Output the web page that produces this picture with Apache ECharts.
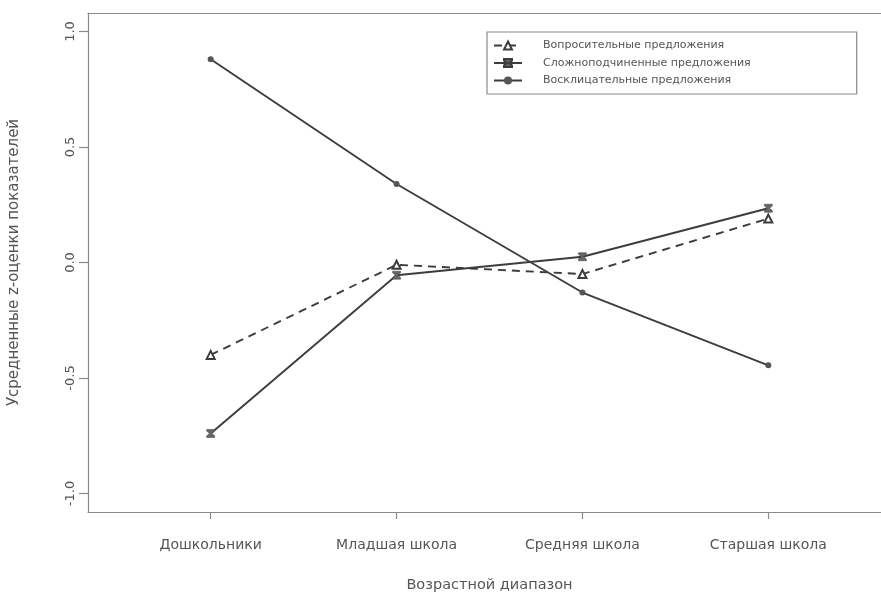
<!DOCTYPE html>
<html>
<head>
<meta charset="utf-8">
<script src="https://cdn.jsdelivr.net/npm/echarts@6/dist/echarts.min.js"></script>
<style>html,body{margin:0;padding:0;background:#fff;}#c{width:881px;height:592px;}</style>
</head>
<body>
<div id="c"></div>
<script>
const categories = ['Дошкольники', 'Младшая школа', 'Средняя школа', 'Старшая школа'];
const seriesNames = ['Вопросительные предложения', 'Сложноподчиненные предложения', 'Восклицательные предложения'];
const questionValues = [-0.40, -0.01, -0.05, 0.19];
const complexValues = [-0.74, -0.055, 0.025, 0.235];
const exclamValues = [0.88, 0.34, -0.13, -0.445];
const yTicks = [-1.0, -0.5, 0.0, 0.5, 1.0];
const xTicks = [1, 2, 3, 4];
const xTitle = 'Возрастной диапазон';
const yTitle = 'Усредненные z-оценки показателей';

const toPairs = vals => vals.map((v, i) => [i + 1, v]);
const FONT = 'DejaVu Sans';
const TXT = '#555';
const LINE = '#3d3d3d';
const BOX = '#8a8a8a';
const hourglass = 'path://M0,0L10,0L10,2L6.5,5L10,8L10,10L0,10L0,8L3.5,5L0,2Z';

const chart = echarts.init(document.getElementById('c'), null, {renderer: 'canvas'});
chart.setOption({
  animation: false,
  backgroundColor: '#fff',
  textStyle: {fontFamily: FONT},
  grid: {left: 88, top: 13, width: 803, height: 499, show: false,
    containLabel: false, outerBoundsMode: 'none'},
  legend: {
    orient: 'vertical', left: 487, top: 32,
    padding: [8, 106, 8, 6],
    borderColor: BOX, borderWidth: 1.2,
    itemWidth: 28, itemHeight: 10, itemGap: 6.5,
    textStyle: {fontFamily: FONT, fontSize: 11, color: TXT, padding: [0, 0, 0, 16]},
    data: seriesNames
  },
  xAxis: [{
    type: 'value', min: 0.34, max: 4.66, position: 'bottom',
    name: xTitle, nameLocation: 'middle', nameGap: 66,
    nameTextStyle: {fontFamily: FONT, fontSize: 14.5, color: TXT},
    axisLine: {show: true, onZero: false, lineStyle: {color: BOX, width: 1.2}},
    splitLine: {show: false},
    axisTick: {show: true, inside: false, length: 7, customValues: xTicks, lineStyle: {color: BOX, width: 1.2}},
    axisLabel: {customValues: xTicks, margin: 26, fontFamily: FONT, fontSize: 14, color: TXT,
      formatter: v => categories[Math.round(v) - 1] || ''}
  }, {
    type: 'value', min: 0.34, max: 4.66, position: 'top',
    axisLine: {show: true, onZero: false, lineStyle: {color: BOX, width: 1.2}},
    axisTick: {show: false}, axisLabel: {show: false}, splitLine: {show: false}
  }],
  yAxis: {
    type: 'value', min: -1.08, max: 1.08,
    name: yTitle, nameLocation: 'middle', nameGap: 66, nameRotate: 90,
    nameTextStyle: {fontFamily: FONT, fontSize: 15, color: TXT},
    axisLine: {show: true, onZero: false, lineStyle: {color: BOX, width: 1.2}},
    splitLine: {show: false},
    axisTick: {show: true, inside: false, length: 9, customValues: yTicks, lineStyle: {color: BOX, width: 1.2}},
    axisLabel: {customValues: yTicks, rotate: 90, margin: 11, fontFamily: FONT, fontSize: 13, color: TXT,
      formatter: v => v.toFixed(1)}
  },
  series: [
    {name: seriesNames[0], type: 'line', data: toPairs(questionValues),
      symbol: 'emptyTriangle', symbolSize: 8,
      lineStyle: {color: LINE, width: 1.9, type: [8, 6]},
      itemStyle: {color: LINE, borderColor: LINE, borderWidth: 1.3}},
    {name: seriesNames[1], type: 'line', data: toPairs(complexValues),
      symbol: hourglass, symbolSize: 8,
      lineStyle: {color: LINE, width: 1.9},
      itemStyle: {color: '#666', borderColor: LINE, borderWidth: 0.5}},
    {name: seriesNames[2], type: 'line', data: toPairs(exclamValues),
      symbol: 'circle', symbolSize: 6,
      lineStyle: {color: LINE, width: 1.9},
      itemStyle: {color: '#555'}}
  ]
});
</script>
</body>
</html>
